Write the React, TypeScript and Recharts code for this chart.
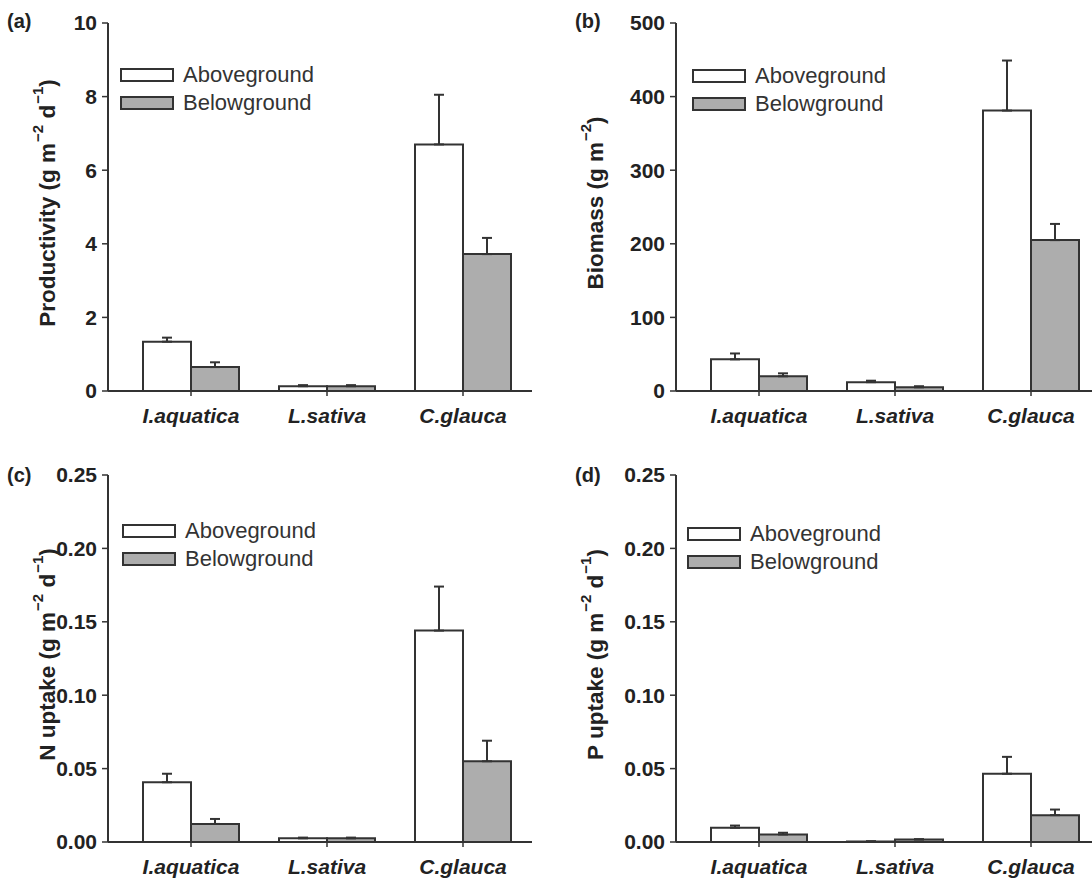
import React from 'react';
import { BarChart, Bar, XAxis, YAxis, ErrorBar, Legend } from 'recharts';

const FONT = '"Liberation Sans", Arial, Helvetica, sans-serif';
const INK = '#333333';
const TEXT = '#222222';
const GREY = '#adadad';

const categories = ['I.aquatica', 'L.sativa', 'C.glauca'];
const seriesNames = ['Aboveground', 'Belowground'];
const seriesFills = ['#ffffff', GREY];

// (a) Productivity (g m-2 d-1)
const prodAbove = [1.34, 0.13, 6.7];
const prodAboveErr = [0.11, 0.03, 1.35];
const prodBelow = [0.65, 0.13, 3.72];
const prodBelowErr = [0.13, 0.03, 0.44];
const prodTicks = [0, 2, 4, 6, 8, 10];

// (b) Biomass (g m-2)
const bioAbove = [43, 12, 381];
const bioAboveErr = [8, 2, 68];
const bioBelow = [20, 5, 205];
const bioBelowErr = [4, 1.5, 22];
const bioTicks = [0, 100, 200, 300, 400, 500];

// (c) N uptake (g m-2 d-1)
const nAbove = [0.0407, 0.0025, 0.144];
const nAboveErr = [0.0058, 0.0005, 0.03];
const nBelow = [0.0123, 0.0025, 0.055];
const nBelowErr = [0.0034, 0.0005, 0.014];

// (d) P uptake (g m-2 d-1)
const pAbove = [0.0097, 0.0003, 0.0465];
const pAboveErr = [0.0015, 0.0002, 0.0115];
const pBelow = [0.0051, 0.0017, 0.0183];
const pBelowErr = [0.0012, 0.0002, 0.0038];
const uptakeTicks = [0, 0.05, 0.1, 0.15, 0.2, 0.25];

function buildRows(above: number[], aErr: number[], below: number[], bErr: number[]) {
  return categories.map((name, i) => ({
    name,
    above: above[i],
    aErr: [0, aErr[i]],
    below: below[i],
    bErr: [0, bErr[i]],
  }));
}

type LabelPart = { t: string; sup?: boolean };

const prodLabel: LabelPart[] = [
  { t: 'Productivity (g m' }, { t: '−2', sup: true }, { t: ' d' }, { t: '−1', sup: true }, { t: ')' },
];
const bioLabel: LabelPart[] = [{ t: 'Biomass (g m' }, { t: '−2', sup: true }, { t: ')' }];
const nLabel: LabelPart[] = [
  { t: 'N uptake (g m' }, { t: '−2', sup: true }, { t: ' d' }, { t: '−1', sup: true }, { t: ')' },
];
const pLabel: LabelPart[] = [
  { t: 'P uptake (g m' }, { t: '−2', sup: true }, { t: ' d' }, { t: '−1', sup: true }, { t: ')' },
];

function renderYLabel(parts: LabelPart[], labelX: number) {
  return (props: any) => {
    const vb = props.viewBox || { x: 0, y: 0, width: 0, height: 0 };
    const cx = (vb.x || 0) + labelX;
    const cy = (vb.y || 0) + (vb.height || 0) / 2 - 4;
    let prevSup = false;
    return (
      <text
        x={cx}
        y={cy}
        transform={`rotate(-90, ${cx}, ${cy})`}
        textAnchor="middle"
        dominantBaseline="central"
        fontFamily={FONT}
        fontWeight="bold"
        fontSize={22.5}
        fill={TEXT}
      >
        {parts.map((p, i) => {
          let dy = 0;
          if (p.sup && !prevSup) dy = -10;
          if (!p.sup && prevSup) dy = 10;
          prevSup = !!p.sup;
          return (
            <tspan key={i} dy={dy} fontSize={p.sup ? 15 : 22.5} dx={p.sup ? 1 : 0}>
              {p.t}
            </tspan>
          );
        })}
      </text>
    );
  };
}

const LegendBox = () => (
  <div style={{ fontFamily: FONT }}>
    {seriesNames.map((n, i) => (
      <div key={n} style={{ display: 'flex', alignItems: 'center', height: 28 }}>
        <svg width={54} height={14} style={{ display: 'block' }}>
          <rect x={1} y={1} width={52} height={12} fill={seriesFills[i]} stroke={INK} strokeWidth={2} />
        </svg>
        <span style={{ marginLeft: 9, fontSize: 22, color: '#333', lineHeight: '28px', whiteSpace: 'nowrap' }}>{n}</span>
      </div>
    ))}
  </div>
);

type PanelProps = {
  left: number;
  top: number;
  width: number;
  height: number;
  margin: { top: number; right: number; bottom: number; left: number };
  yWidth: number;
  rows: any[];
  ticks: number[];
  fmt: (v: number) => string;
  label: LabelPart[];
  labelX: number;
  legendLeft: number;
  legendTop: number;
};

function Panel(p: PanelProps) {
  const max = p.ticks[p.ticks.length - 1];
  return (
    <div style={{ position: 'absolute', left: p.left, top: p.top, width: p.width, height: p.height }}>
      <BarChart width={p.width} height={p.height} data={p.rows} margin={p.margin} barGap={0}>
        <XAxis
          dataKey="name"
          padding={{ left: 15, right: 1 }}
          height={30}
          tickSize={5}
          tickMargin={12}
          interval={0}
          axisLine={{ stroke: INK, strokeWidth: 2 }}
          tickLine={{ stroke: INK, strokeWidth: 1.5 }}
          tick={{ fontFamily: FONT, fontSize: 21, fontWeight: 'bold', fontStyle: 'italic', fill: TEXT }}
        />
        <XAxis
          xAxisId="top"
          dataKey="name"
          orientation="top"
          height={0}
          tick={false}
          tickLine={false}
          axisLine={{ stroke: INK, strokeWidth: 2 }}
        />
        <YAxis
          width={p.yWidth}
          type="number"
          domain={[0, max]}
          ticks={p.ticks}
          interval={0}
          tickFormatter={p.fmt}
          tickSize={6}
          tickMargin={5}
          axisLine={{ stroke: INK, strokeWidth: 2 }}
          tickLine={{ stroke: INK, strokeWidth: 1.5 }}
          tick={{ fontFamily: FONT, fontSize: 21, fontWeight: 'bold', fill: TEXT }}
          label={{ content: renderYLabel(p.label, p.labelX) }}
        />
        <YAxis
          yAxisId="right"
          orientation="right"
          type="number"
          domain={[0, max]}
          width={0}
          tick={false}
          tickLine={false}
          axisLine={{ stroke: INK, strokeWidth: 2 }}
        />
        <Legend
          layout="vertical"
          align="center"
          verticalAlign="middle"
          content={() => <LegendBox />}
          wrapperStyle={{ left: p.legendLeft, top: p.legendTop, width: 'auto', height: 'auto' }}
        />
        <Bar
          dataKey="above"
          name={seriesNames[0]}
          fill={seriesFills[0]}
          stroke={INK}
          strokeWidth={2}
          barSize={48}
          isAnimationActive={false}
        >
          <ErrorBar dataKey="aErr" width={5} stroke={INK} strokeWidth={2} direction="y" />
        </Bar>
        <Bar
          dataKey="below"
          name={seriesNames[1]}
          fill={seriesFills[1]}
          stroke={INK}
          strokeWidth={2}
          barSize={48}
          isAnimationActive={false}
        >
          <ErrorBar dataKey="bErr" width={5} stroke={INK} strokeWidth={2} direction="y" />
        </Bar>
      </BarChart>
    </div>
  );
}

const fmtInt = (v: number) => String(v);
const fmt2 = (v: number) => v.toFixed(2);

export default function App() {
  const topMargin = { top: 23, right: 8, bottom: 19, left: 0 };
  const botMargin = { top: 35, right: 8, bottom: 10, left: 0 };
  return (
    <div
      style={{
        position: 'absolute',
        left: 0,
        top: 0,
        width: 1092,
        height: 882,
        overflow: 'hidden',
        background: '#ffffff',
      }}
    >
      <Panel
        left={0}
        top={0}
        width={540}
        height={440}
        margin={topMargin}
        yWidth={108}
        rows={buildRows(prodAbove, prodAboveErr, prodBelow, prodBelowErr)}
        ticks={prodTicks}
        fmt={fmtInt}
        label={prodLabel}
        labelX={47}
        legendLeft={120}
        legendTop={61}
      />
      <Panel
        left={540}
        top={0}
        width={568}
        height={440}
        margin={topMargin}
        yWidth={136}
        rows={buildRows(bioAbove, bioAboveErr, bioBelow, bioBelowErr)}
        ticks={bioTicks}
        fmt={fmtInt}
        label={bioLabel}
        labelX={55}
        legendLeft={152}
        legendTop={62}
      />
      <Panel
        left={0}
        top={440}
        width={540}
        height={442}
        margin={botMargin}
        yWidth={108}
        rows={buildRows(nAbove, nAboveErr, nBelow, nBelowErr)}
        ticks={uptakeTicks}
        fmt={fmt2}
        label={nLabel}
        labelX={47}
        legendLeft={122}
        legendTop={77}
      />
      <Panel
        left={540}
        top={440}
        width={568}
        height={442}
        margin={botMargin}
        yWidth={136}
        rows={buildRows(pAbove, pAboveErr, pBelow, pBelowErr)}
        ticks={uptakeTicks}
        fmt={fmt2}
        label={pLabel}
        labelX={55}
        legendLeft={147}
        legendTop={80}
      />
      <svg
        width={1092}
        height={882}
        style={{ position: 'absolute', left: 0, top: 0, pointerEvents: 'none' }}
      >
        <g fontFamily={FONT} fontWeight="bold" fontSize={20} fill={TEXT}>
          <text x={7} y={28}>(a)</text>
          <text x={575} y={28}>(b)</text>
          <text x={7} y={482}>(c)</text>
          <text x={575} y={482}>(d)</text>
        </g>
      </svg>
    </div>
  );
}
